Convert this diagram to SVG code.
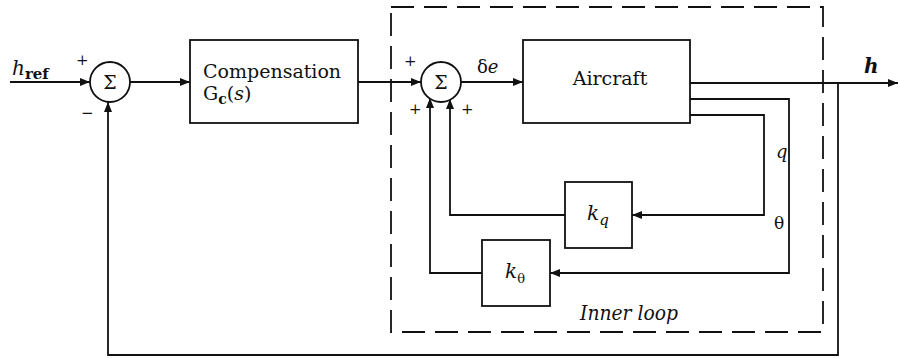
<svg xmlns="http://www.w3.org/2000/svg" width="900" height="358" viewBox="0 0 900 358">
<style>
.ln{fill:none;stroke:#111;stroke-width:1.8}
.bx{fill:#fff;stroke:#111;stroke-width:1.8}
.dash{fill:none;stroke:#111;stroke-width:1.8;stroke-dasharray:23 10}
text{font-family:"DejaVu Serif","Liberation Serif",serif;fill:#111}
.t{font-size:19px}
.it{font-style:italic}
.sg{font-size:15px}
</style>
<defs>
<marker id="ar" viewBox="0 0 10 8" refX="10" refY="4" markerWidth="10" markerHeight="8" markerUnits="userSpaceOnUse" orient="auto">
<path d="M0,0 L10,4 L0,8 Z" fill="#111"/>
</marker>
</defs>
<rect x="0" y="0" width="900" height="358" fill="#fff"/>

<g id="inner-loop-boundary">
<rect class="dash" x="391" y="7" width="432" height="325"/>
<text class="it" x="580" y="320" font-size="21" textLength="98" lengthAdjust="spacingAndGlyphs" font-family="Liberation Serif">Inner loop</text>
</g>

<g id="connectors">
<path class="ln" d="M10,82 H90" marker-end="url(#ar)"/>
<path class="ln" d="M130,82 H190" marker-end="url(#ar)"/>
<path class="ln" d="M358,82 H421" marker-end="url(#ar)"/>
<path class="ln" d="M461,82 H523" marker-end="url(#ar)"/>
<path class="ln" d="M690,83 H898" marker-end="url(#ar)"/>
<path class="ln" d="M838,83 V355 H108 V102" marker-end="url(#ar)"/>
<path class="ln" d="M690,99 H789 V273 H550" marker-end="url(#ar)"/>
<path class="ln" d="M690,115 H764 V215 H632" marker-end="url(#ar)"/>
<path class="ln" d="M565,215 H450 V99" marker-end="url(#ar)"/>
<path class="ln" d="M482,273 H430 V98" marker-end="url(#ar)"/>
</g>

<g id="labels">
<text x="12" y="75" class="it" font-size="20">h<tspan font-style="normal" font-weight="bold" font-size="15" dy="4">ref</tspan></text>
<text x="76" y="65" class="sg">+</text>
<text x="81" y="118" class="sg">−</text>
<text x="404" y="66" class="sg">+</text>
<text x="409" y="114" class="sg">+</text>
<text x="461" y="114" class="sg">+</text>
<text x="477" y="73" font-size="18">δ<tspan class="it">e</tspan></text>
<text x="864" y="73" class="it" font-weight="bold" font-size="20">h</text>
<text x="776" y="158" class="it" font-size="18">q</text>
<text x="774" y="229" font-size="17">θ</text>
</g>

<g id="sum1">
<circle class="bx" cx="110" cy="82" r="20"/>
<text x="110" y="89" font-size="19" text-anchor="middle">Σ</text>
</g>

<g id="compensation">
<rect class="bx" x="190" y="40" width="168" height="83"/>
<text x="203" y="78" class="t">Compensation</text>
<text x="203" y="100" class="t">G<tspan font-weight="bold" font-size="14" dy="4">c</tspan><tspan dy="-4">(</tspan><tspan class="it">s</tspan>)</text>
</g>

<g id="sum2">
<circle class="bx" cx="441" cy="82" r="20"/>
<text x="441" y="89" font-size="19" text-anchor="middle">Σ</text>
</g>

<g id="aircraft">
<rect class="bx" x="523" y="40" width="167" height="83"/>
<text x="610" y="85" class="t" text-anchor="middle">Aircraft</text>
</g>

<g id="kq">
<rect class="bx" x="565" y="182" width="67" height="66"/>
<text x="587" y="220" class="it" font-size="20">k<tspan font-size="15" dy="5">q</tspan></text>
</g>

<g id="ktheta">
<rect class="bx" x="482" y="240" width="68" height="66"/>
<text x="505" y="278" class="it" font-size="20">k<tspan font-style="normal" font-size="13" dy="5">θ</tspan></text>
</g>
</svg>
